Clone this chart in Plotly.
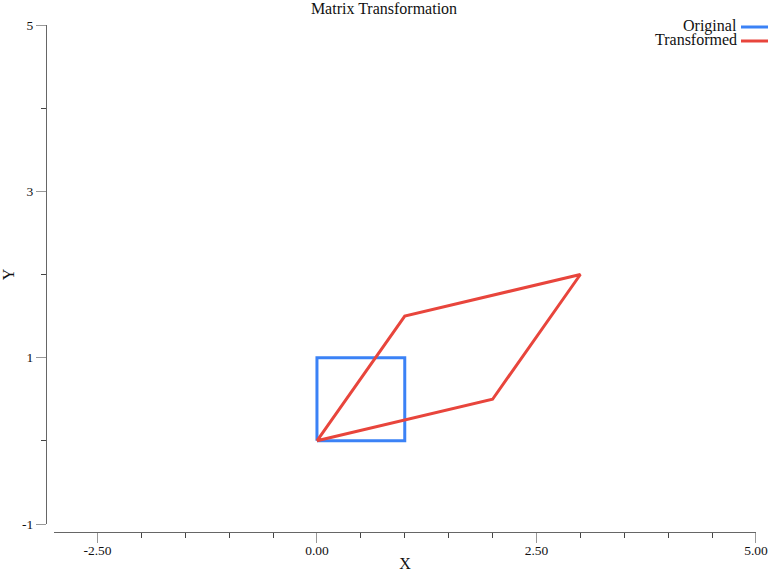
import plotly.graph_objects as go

# Data
orig_x = [0, 1, 1, 0, 0]
orig_y = [0, 0, 1, 1, 0]
trans_x = [0, 2, 3, 1, 0]
trans_y = [0, 0.5, 2, 1.5, 0]
series_names = ["Original", "Transformed"]
series_colors = ["#3b82f6", "#e8453c"]
x_tickvals = [-2.5, 0, 2.5, 5]
x_ticktext = ["-2.50", "0.00", "2.50", "5.00"]
y_tickvals = [-1, 1, 3, 5]
y_ticktext = ["-1", "1", "3", "5"]

W, H = 768, 576
FONT = "Liberation Serif, Times New Roman, serif"

fig = go.Figure()
fig.add_trace(go.Scatter(x=orig_x, y=orig_y, mode="lines", name=series_names[0],
                         line=dict(color=series_colors[0], width=3), showlegend=False))
fig.add_trace(go.Scatter(x=trans_x, y=trans_y, mode="lines", name=series_names[1],
                         line=dict(color=series_colors[1], width=3), showlegend=False))

px0, px1 = 54, 756
py0, py1 = 25, 524

fig.update_layout(
    width=W, height=H,
    margin=dict(l=0, r=0, t=0, b=0),
    paper_bgcolor="white", plot_bgcolor="white",
    font=dict(family=FONT, color="#111", size=13),
    title=dict(text="Matrix Transformation", x=0.5, xref="container",
               y=1 - 8 / H, yref="container", yanchor="middle", xanchor="center",
               font=dict(size=16, color="#111", family=FONT)),
    xaxis=dict(
        domain=[px0 / W, px1 / W], range=[-2.995, 5.0005],
        anchor="free", position=1 - 532 / H,
        showgrid=False, zeroline=False,
        showline=True, linecolor="#666", linewidth=1,
        tickmode="array", tickvals=x_tickvals, ticktext=x_ticktext,
        ticks="outside", ticklen=10, tickcolor="#999", tickwidth=1,
        ticklabelstandoff=-4, ticklabeloverflow="allow",
        minor=dict(ticks="outside", ticklen=5, tickcolor="#444", dtick=0.5, tick0=0, showgrid=False),
        tickfont=dict(size=13.5, color="#111", family=FONT),
        title=dict(text="X", font=dict(size=16, color="#111", family=FONT), standoff=0),
        automargin=False,
    ),
    yaxis=dict(
        domain=[1 - py1 / H, 1 - py0 / H], range=[-1, 5],
        anchor="free", position=46 / W,
        showgrid=False, zeroline=False,
        showline=True, linecolor="#666", linewidth=1,
        tickmode="array", tickvals=y_tickvals, ticktext=y_ticktext,
        ticks="outside", ticklen=10, tickcolor="#999", tickwidth=1,
        ticklabeloverflow="allow",
        minor=dict(ticks="outside", ticklen=5, tickcolor="#444", dtick=1, tick0=0, showgrid=False),
        tickfont=dict(size=13.5, color="#111", family=FONT),
        title=dict(text="Y", font=dict(size=16, color="#111", family=FONT), standoff=4),
        automargin=False,
    ),
    showlegend=False,
)

# Custom legend (text left of swatch, right-aligned)
for i, (name, color) in enumerate(zip(series_names, series_colors)):
    yc = 26 + 14 * i
    fig.add_annotation(text=name, xref="paper", yref="paper",
                       x=738 / W, y=1 - yc / H, xanchor="right", yanchor="middle",
                       borderpad=0, showarrow=False,
                       font=dict(size=16, color="#111", family=FONT))
    fig.add_shape(type="line", xref="paper", yref="paper",
                  x0=741 / W, x1=1.0, y0=1 - (yc + 1) / H, y1=1 - (yc + 1) / H,
                  line=dict(color=color, width=3))

fig.write_html("out.html", config={"displayModeBar": False},
               post_script="document.body.style.margin='0';document.body.style.padding='0';")
